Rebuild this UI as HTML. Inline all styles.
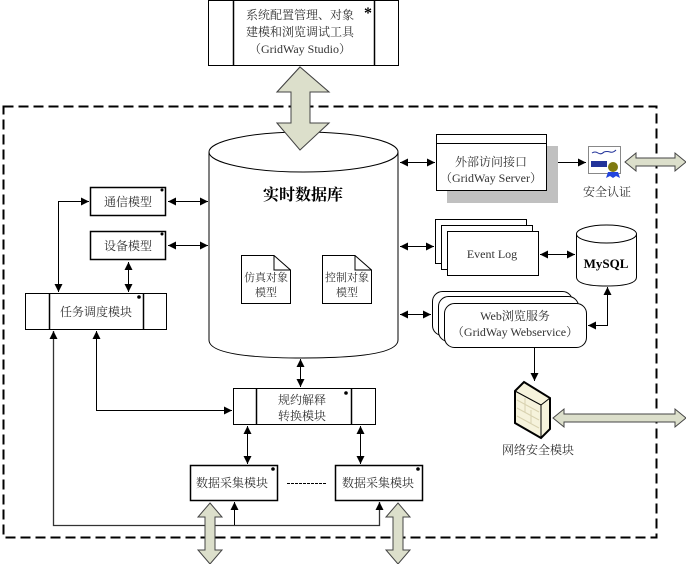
<!DOCTYPE html>
<html><head><meta charset="utf-8"><style>
html,body{margin:0;padding:0;background:#fff}
svg{display:block}
text{font-family:"Liberation Serif","Noto Serif CJK SC","Noto Sans CJK SC",serif;font-size:12px;fill:#333}
</style></head><body>
<svg width="686" height="564" viewBox="0 0 686 564" xmlns="http://www.w3.org/2000/svg">
<defs>
<marker id="a" viewBox="0 0 10 10" refX="10" refY="5" markerWidth="8" markerHeight="8" orient="auto-start-reverse" markerUnits="userSpaceOnUse"><path d="M0,0L10,5L0,10z" fill="#000"/></marker>
</defs>
<g fill="none" stroke="#000">
<!-- dashed border -->
<rect x="3.5" y="106.5" width="653" height="431" stroke-width="2" stroke-dasharray="10,5"/>
</g>
<!-- top box -->
<rect x="208.5" y="0.5" width="190" height="65" fill="#fff" stroke="#000"/>
<line x1="233.5" y1="0" x2="233.5" y2="65" stroke="#000" stroke-width="1.5"/>
<line x1="374.5" y1="0" x2="374.5" y2="65" stroke="#000" stroke-width="1.5"/>
<text x="300" y="19" text-anchor="middle">系统配置管理、对象</text>
<text x="300" y="36" text-anchor="middle">建模和浏览调试工具</text>
<text x="300" y="53" text-anchor="middle">（GridWay Studio）</text>
<text x="368" y="18" text-anchor="middle" style="font-size:16px;font-weight:bold;fill:#000">*</text>
<!-- big double arrow -->
<path d="M300,67 L329,92 L310,92 L310,123 L329,123 L300,150 L277,123 L291,123 L291,92 L277,92 Z" fill="#dcdfcb" stroke="#444"/>
<!-- cylinder -->
<path d="M209,152 L209,340 Q209,358 303,358 Q398,358 398,340 L398,152" fill="#fff" stroke="#000"/>
<ellipse cx="303.5" cy="152" rx="94.5" ry="20" fill="#fff" stroke="#000"/>
<path d="M300,67 L329,92 L310,92 L310,123 L329,123 L300,150 L277,123 L291,123 L291,92 L277,92 Z" fill="#dcdfcb" stroke="#444"/>
<text x="303" y="200" text-anchor="middle" style="font-size:16px;font-weight:bold;fill:#000">实时数据库</text>
<path d="M241.5,255.5 L274,255.5 L290.5,270 L290.5,303.5 L241.5,303.5 Z M274,255.5 L274,270 L290.5,270" fill="#fff" stroke="#000"/>
<text x="266" y="281" text-anchor="middle" style="font-size:11px">仿真对象</text>
<text x="266" y="296" text-anchor="middle" style="font-size:11px">模型</text>
<path d="M322.5,255.5 L355,255.5 L371.5,270 L371.5,303.5 L322.5,303.5 Z M355,255.5 L355,270 L371.5,270" fill="#fff" stroke="#000"/>
<text x="347" y="281" text-anchor="middle" style="font-size:11px">控制对象</text>
<text x="347" y="296" text-anchor="middle" style="font-size:11px">模型</text>
<!-- left boxes -->
<rect x="90.5" y="187.5" width="75" height="28" fill="#fff" stroke="#000" stroke-width="1.5"/>
<text x="128" y="206" text-anchor="middle">通信模型</text>
<circle cx="162" cy="190" r="1.5"/>
<rect x="90.5" y="231.5" width="75" height="28" fill="#fff" stroke="#000" stroke-width="1.5"/>
<text x="128" y="250" text-anchor="middle">设备模型</text>
<circle cx="162" cy="234" r="1.5"/>
<rect x="25.5" y="293.5" width="141" height="36" fill="#fff" stroke="#000"/>
<line x1="49.5" y1="293" x2="49.5" y2="330" stroke="#000" stroke-width="1.5"/>
<line x1="143.5" y1="293" x2="143.5" y2="330" stroke="#000" stroke-width="1.5"/>
<text x="96" y="316" text-anchor="middle">任务调度模块</text>
<circle cx="139" cy="297" r="1.8"/>
<!-- 规约 -->
<rect x="233.5" y="388.5" width="142" height="36" fill="#fff" stroke="#000"/>
<line x1="256.5" y1="388" x2="256.5" y2="425" stroke="#000" stroke-width="1.5"/>
<line x1="351.5" y1="388" x2="351.5" y2="425" stroke="#000" stroke-width="1.5"/>
<text x="302" y="404" text-anchor="middle">规约解释</text>
<text x="302" y="420" text-anchor="middle">转换模块</text>
<circle cx="346" cy="393" r="1.8"/>
<!-- data boxes -->
<rect x="190.5" y="465.5" width="87" height="35" fill="#fff" stroke="#000" stroke-width="1.5"/>
<text x="232" y="487" text-anchor="middle">数据采集模块</text>
<circle cx="273" cy="469" r="1.8"/>
<rect x="335.5" y="465.5" width="87" height="35" fill="#fff" stroke="#000" stroke-width="1.5"/>
<text x="378" y="487" text-anchor="middle">数据采集模块</text>
<circle cx="418" cy="469" r="1.8"/>
<line x1="287" y1="483.5" x2="326" y2="483.5" stroke="#000" stroke-dasharray="3,1"/>
<!-- connectors -->
<g stroke="#000" fill="none" stroke-width="1">
<line x1="168" y1="201.5" x2="208" y2="201.5" marker-start="url(#a)" marker-end="url(#a)"/>
<line x1="168" y1="245.5" x2="208" y2="245.5" marker-start="url(#a)" marker-end="url(#a)"/>
<line x1="128.5" y1="262" x2="128.5" y2="292" marker-start="url(#a)" marker-end="url(#a)"/>
<path d="M89,201.5 L58.5,201.5 L58.5,292" marker-start="url(#a)" marker-end="url(#a)"/>
<path d="M53.5,331 L53.5,525.5 L379.5,525.5 L379.5,502" marker-start="url(#a)" marker-end="url(#a)" stroke="#333" stroke-width="1.3"/>
<line x1="234.5" y1="525" x2="234.5" y2="502" marker-end="url(#a)"/>
<path d="M96.5,331 L96.5,410.5 L232,410.5" marker-start="url(#a)" marker-end="url(#a)"/>
<line x1="300.5" y1="359" x2="300.5" y2="387" marker-start="url(#a)" marker-end="url(#a)"/>
<line x1="247.5" y1="426" x2="247.5" y2="464" marker-start="url(#a)" marker-end="url(#a)"/>
<line x1="360.5" y1="426" x2="360.5" y2="464" marker-start="url(#a)" marker-end="url(#a)"/>
<line x1="400" y1="162.5" x2="435" y2="162.5" marker-start="url(#a)" marker-end="url(#a)"/>
<line x1="548" y1="162.5" x2="586" y2="162.5" marker-start="url(#a)" marker-end="url(#a)"/>
<line x1="400" y1="246.5" x2="434" y2="246.5" marker-start="url(#a)" marker-end="url(#a)"/>
<line x1="540" y1="254.5" x2="575" y2="254.5" marker-start="url(#a)" marker-end="url(#a)"/>
<line x1="400" y1="314.5" x2="431" y2="314.5" marker-start="url(#a)" marker-end="url(#a)"/>
<path d="M588,325.5 L607.5,325.5 L607.5,287" marker-start="url(#a)" marker-end="url(#a)"/>
<line x1="534.5" y1="348" x2="534.5" y2="381" marker-end="url(#a)"/>
</g>
<!-- thick vertical arrows bottom -->
<path d="M210,503 L222,517 L215,517 L215,550 L222,550 L210,564 L198,550 L205,550 L205,517 L198,517 Z" fill="#dcdfcb" stroke="#444"/>
<path d="M398,503 L410,517 L403,517 L403,550 L410,550 L398,564 L386,550 L393,550 L393,517 L386,517 Z" fill="#dcdfcb" stroke="#444"/>
<!-- external interface -->
<rect x="447" y="146" width="111" height="57" fill="#c0c0c0"/>
<rect x="436.5" y="134.5" width="110" height="56" fill="#fff" stroke="#000"/>
<line x1="436" y1="143.5" x2="547" y2="143.5" stroke="#000"/>
<text x="491" y="166" text-anchor="middle">外部访问接口</text>
<text x="491" y="182" text-anchor="middle">（GridWay Server）</text>
<!-- cert -->
<rect x="588.5" y="146.5" width="32" height="27" fill="#fff" stroke="#888"/>
<path d="M592,153 q3,-2 6,0 q3,2 6,-1 q3,-1 6,0 q3,1 6,-2" stroke="#22339a" fill="none"/>
<rect x="591" y="161" width="16" height="6" fill="#22339a"/>
<path d="M608,172 l-2,6 l4,-2 l3,2 l3,-2 l4,2 l-2,-6z" fill="#2244dd"/>
<circle cx="613" cy="167" r="5" fill="#7f7a10"/>
<text x="607" y="196" text-anchor="middle">安全认证</text>
<path d="M625,162 L636,153 L636,158 L675,158 L675,153 L686,162 L675,171 L675,166 L636,166 L636,171 Z" fill="#dcdfcb" stroke="#444"/>
<!-- event log -->
<rect x="435.5" y="219.5" width="91" height="44" fill="#fff" stroke="#000"/>
<rect x="441.5" y="225.5" width="91" height="44" fill="#fff" stroke="#000"/>
<rect x="447.5" y="231.5" width="91" height="44" fill="#fff" stroke="#000"/>
<text x="492" y="258" text-anchor="middle">Event Log</text>
<!-- mysql -->
<path d="M576.5,234 L576.5,277 Q576.5,286 606.5,286 Q636.5,286 636.5,277 L636.5,234" fill="#fff" stroke="#000"/>
<ellipse cx="606.5" cy="234" rx="30" ry="9" fill="#fff" stroke="#000"/>
<text x="606" y="268" text-anchor="middle" style="font-weight:bold;font-size:13px;fill:#000">MySQL</text>
<!-- web -->
<rect x="432.5" y="291.5" width="140" height="44" rx="10" fill="#fff" stroke="#000"/>
<rect x="438.5" y="296.5" width="140" height="45" rx="10" fill="#fff" stroke="#000"/>
<rect x="444.5" y="303.5" width="142" height="44" rx="10" fill="#fff" stroke="#000"/>
<text x="515" y="320" text-anchor="middle">Web浏览服务</text>
<text x="515" y="336" text-anchor="middle">（GridWay Webservice）</text>
<!-- firewall -->
<path d="M515,391 L524,382 L550,398 L550,429 L541,438 L515,423 Z" fill="#f6f3dc" stroke="#000" stroke-width="2"/>
<path d="M541,405 L550,398 M541,405 L541,438 M515,391 L541,405" stroke="#000" fill="none"/>
<g stroke="#d8d2b0" fill="none"><path d="M517,400 L539,412 M517,408 L539,420 M517,416 L539,428 M525,398 L525,412 M531,410 L531,424"/></g>
<text x="538" y="454" text-anchor="middle">网络安全模块</text>
<path d="M553,418 L564,409 L564,414 L675,414 L675,409 L686,418 L675,427 L675,422 L564,422 L564,427 Z" fill="#dcdfcb" stroke="#444"/>
</svg>
</body></html>
